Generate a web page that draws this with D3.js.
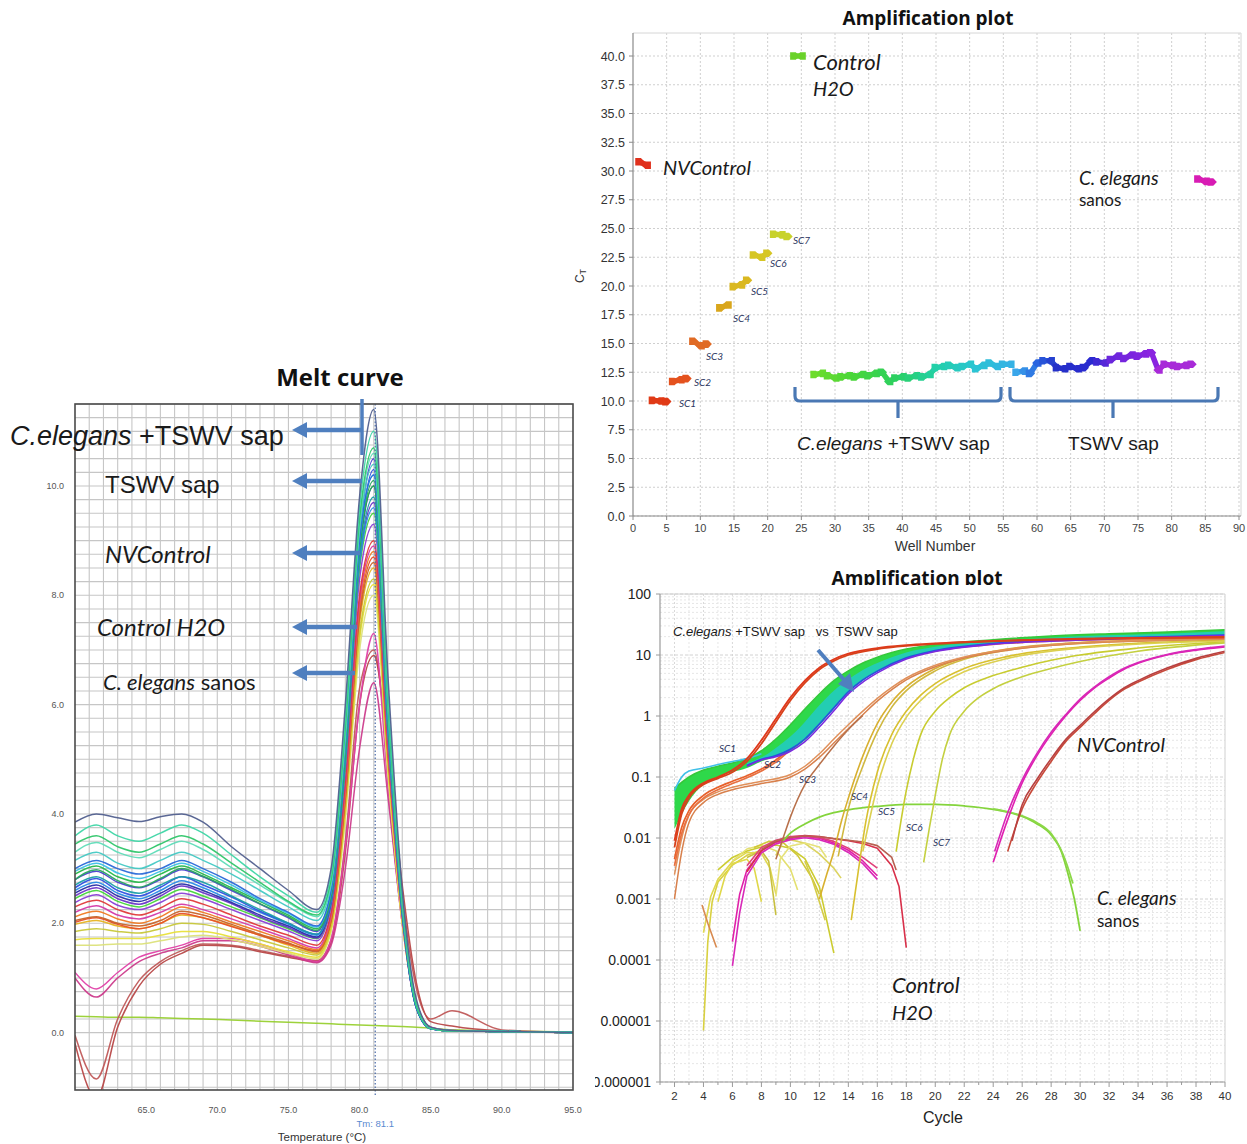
<!DOCTYPE html>
<html><head><meta charset="utf-8">
<script src="https://cdn.jsdelivr.net/npm/d3@7"></script>
<style>
html,body{margin:0;padding:0;background:#fff;}
svg{display:block;}
text{font-family:"Liberation Sans",Arial,sans-serif;}
</style></head><body>
<svg id="fig" width="1247" height="1144"></svg>
<script>
// ===================== data =====================

// Melt curve: derivative reporter (-dF/dT) sampled at these temperatures (°C)
const meltTemps = [60, 61.5, 63, 64.5, 66, 67.5, 69, 71, 73, 75, 77, 78, 79, 80, 81, 82, 83, 84, 85, 86.5, 90, 95];
const meltValues = [
  [0.30,0.29,0.28,0.28,0.27,0.26,0.25,0.23,0.21,0.19,0.17,0.16,0.15,0.14,0.13,0.12,0.11,0.10,0.08,0.05,0.03,0.01],
  [-0.05,-0.85,0.25,0.95,1.30,1.50,1.62,1.60,1.50,1.40,1.32,1.70,3.50,6.30,7.00,5.00,2.50,0.80,0.25,0.40,0.05,0.0],
  [-0.20,-1.20,0.10,0.85,1.25,1.45,1.60,1.58,1.48,1.38,1.30,1.65,3.30,6.00,6.90,5.20,2.70,0.90,0.20,0.12,0.03,0.0],
  [1.10,0.80,1.10,1.38,1.50,1.60,1.72,1.72,1.62,1.45,1.30,1.70,3.40,6.00,7.30,4.50,2.00,0.50,0.10,0.04,0.02,0.0],
  [1.00,0.65,1.00,1.30,1.45,1.55,1.68,1.68,1.58,1.42,1.28,1.60,3.00,5.20,6.40,4.30,2.00,0.55,0.10,0.04,0.02,0.0],
  [1.60,1.60,1.62,1.62,1.68,1.75,1.78,1.70,1.58,1.45,1.35,1.85,3.90,7.00,8.00,4.70,2.00,0.50,0.08,0.03,0.02,0.0],
  [1.70,1.72,1.72,1.72,1.78,1.85,1.85,1.75,1.62,1.48,1.38,1.90,4.00,7.20,8.20,4.80,2.00,0.50,0.08,0.03,0.02,0.0],
  [1.85,1.90,1.85,1.82,1.90,2.00,1.98,1.85,1.70,1.55,1.42,1.95,4.10,7.30,8.30,4.90,2.10,0.50,0.08,0.03,0.02,0.0],
  [1.98,2.05,1.95,1.90,2.00,2.15,2.10,1.95,1.78,1.60,1.45,2.00,4.20,7.50,8.50,5.00,2.10,0.50,0.08,0.03,0.02,0.0],
  [2.02,2.10,1.98,1.90,2.00,2.18,2.10,1.94,1.78,1.62,1.50,2.05,4.30,7.70,8.70,5.10,2.15,0.50,0.08,0.03,0.02,0.0],
  [2.05,2.12,2.00,1.95,2.05,2.22,2.15,1.98,1.80,1.64,1.48,2.05,4.30,7.60,8.60,5.10,2.20,0.55,0.09,0.03,0.02,0.0],
  [2.12,2.22,2.08,2.00,2.12,2.30,2.20,2.02,1.85,1.68,1.52,2.10,4.40,7.80,8.80,5.20,2.15,0.50,0.08,0.03,0.02,0.0],
  [2.20,2.32,2.15,2.08,2.20,2.35,2.25,2.08,1.90,1.72,1.55,2.15,4.50,7.90,8.90,5.20,2.10,0.45,0.07,0.03,0.02,0.0],
  [2.30,2.42,2.25,2.15,2.28,2.45,2.35,2.15,1.95,1.78,1.60,2.20,4.60,8.00,9.00,5.30,2.20,0.50,0.08,0.03,0.02,0.0],
  [2.38,2.52,2.33,2.25,2.38,2.55,2.45,2.25,2.05,1.86,1.68,2.30,4.80,8.30,9.30,5.40,2.15,0.45,0.07,0.03,0.02,0.0],
  [2.45,2.60,2.40,2.30,2.45,2.62,2.50,2.30,2.10,1.90,1.72,2.35,4.90,8.50,9.50,5.50,2.20,0.45,0.07,0.03,0.02,0.0],
  [2.50,2.65,2.45,2.35,2.50,2.68,2.56,2.36,2.12,1.92,1.73,2.38,5.00,8.60,9.70,5.60,2.20,0.45,0.07,0.03,0.02,0.0],
  [2.55,2.70,2.50,2.40,2.55,2.72,2.60,2.38,2.15,1.95,1.75,2.40,5.10,8.80,10.0,5.70,2.25,0.45,0.07,0.03,0.02,0.0],
  [2.60,2.75,2.55,2.45,2.60,2.78,2.65,2.42,2.20,1.98,1.78,2.40,5.00,8.60,9.60,5.50,2.20,0.45,0.07,0.03,0.02,0.0],
  [2.65,2.82,2.60,2.50,2.66,2.85,2.70,2.48,2.22,2.00,1.80,2.45,5.20,8.90,10.3,5.80,2.25,0.45,0.07,0.03,0.02,0.0],
  [2.70,2.85,2.65,2.55,2.70,2.85,2.75,2.50,2.25,2.00,1.80,2.45,5.00,8.70,9.80,5.60,2.20,0.45,0.07,0.03,0.02,0.0],
  [2.80,2.95,2.75,2.65,2.80,2.98,2.85,2.60,2.35,2.10,1.85,2.50,5.30,9.10,10.5,5.90,2.30,0.50,0.08,0.03,0.02,0.0],
  [2.80,2.98,2.78,2.66,2.82,3.00,2.86,2.62,2.36,2.12,1.87,2.50,5.20,8.90,10.1,5.80,2.30,0.50,0.08,0.03,0.02,0.0],
  [2.90,3.05,2.85,2.75,2.90,3.05,2.90,2.65,2.40,2.15,1.90,2.55,5.20,8.90,10.0,5.70,2.25,0.50,0.08,0.03,0.02,0.0],
  [2.95,3.10,2.92,2.82,2.95,3.10,2.95,2.70,2.42,2.18,1.93,2.58,5.30,9.00,10.2,5.80,2.30,0.50,0.08,0.03,0.02,0.0],
  [3.00,3.15,3.00,2.90,3.00,3.15,3.00,2.75,2.45,2.20,1.95,2.60,5.30,9.00,10.2,5.80,2.30,0.50,0.08,0.03,0.02,0.0],
  [3.15,3.30,3.10,3.00,3.15,3.30,3.15,2.90,2.60,2.30,2.05,2.70,5.40,9.20,10.4,5.90,2.35,0.50,0.08,0.03,0.02,0.0],
  [3.30,3.48,3.30,3.20,3.35,3.50,3.35,3.02,2.70,2.38,2.12,2.75,5.50,9.30,10.6,6.00,2.40,0.50,0.08,0.03,0.02,0.0],
  [3.45,3.60,3.40,3.30,3.45,3.60,3.45,3.10,2.75,2.40,2.15,2.80,5.60,9.40,10.7,6.00,2.40,0.50,0.08,0.03,0.02,0.0],
  [3.60,3.80,3.60,3.50,3.65,3.80,3.65,3.25,2.85,2.50,2.20,2.90,5.80,9.60,11.0,6.20,2.50,0.55,0.09,0.04,0.02,0.0],
  [3.85,4.00,3.93,3.86,3.95,4.00,3.85,3.40,3.00,2.60,2.25,3.00,6.00,9.80,11.4,6.50,2.60,0.60,0.10,0.04,0.02,0.0]
];
const meltXTicks = [65, 70, 75, 80, 85, 90, 95];
const meltYTicks = [0, 2, 4, 6, 8, 10];
const meltTm = 81.1;

// Ct by well number (top-right panel)
const ctNV    = [[1, 30.8], [2, 30.5]];
const ctSC1   = [[3, 10.05], [4, 10.0], [5, 9.95]];
const ctSC2   = [[6, 11.7], [7, 11.85], [8, 11.95]];
const ctSC3   = [[9, 15.2], [10, 14.8], [11, 14.95]];
const ctSC4   = [[13, 18.1], [14, 18.35]];
const ctSC5   = [[15, 19.95], [16, 20.1], [17, 20.5]];
const ctSC6   = [[18, 22.7], [19, 22.5], [20, 22.85]];
const ctSC7   = [[21, 24.5], [22, 24.45], [23, 24.3]];
const ctH2O   = [[24, 40.0], [25, 40.0]];
const ctSanos = [[84, 29.3], [85, 29.1], [86, 29.05]];
const ctCelTswv = [[27,12.3],[28,12.4],[29,12.2],[30,12.0],[31,12.1],[32,12.2],[33,12.1],[34,12.3],[35,12.2],[36,12.4],[37,12.5],[38,11.7],[39,12.0],[40,12.1],[41,12.0],[42,12.2],[43,12.1],[44,12.3],[45,12.9],[46,13.0],[47,13.1],[48,12.9],[49,13.0],[50,13.2],[51,12.8],[52,13.1],[53,13.3],[54,13.0],[55,13.2],[56,13.2]];
const ctTswv = [[57,12.5],[58,12.6],[59,12.4],[60,13.3],[61,13.5],[62,13.5],[63,12.9],[64,12.8],[65,13.0],[66,12.8],[67,12.9],[68,13.5],[69,13.4],[70,13.3],[71,13.6],[72,13.9],[73,13.7],[74,14.0],[75,13.9],[76,14.1],[77,14.2],[78,12.7],[79,13.2],[80,13.1],[81,13.0],[82,13.1],[83,13.2]];
const ctYTicks = [0, 2.5, 5, 7.5, 10, 12.5, 15, 17.5, 20, 22.5, 25, 27.5, 30, 32.5, 35, 37.5, 40];
const wellTicks = [0, 5, 10, 15, 20, 25, 30, 35, 40, 45, 50, 55, 60, 65, 70, 75, 80, 85, 90];

// Amplification curves (cycle, ΔRn) on a log axis
const bandCycles = [2,3,4,5,6,7,8,9,10,11,12,13,14,15,16,18,20,24,28,32,36,40];
const bandUpper  = [0.065,0.1,0.13,0.15,0.17,0.2,0.27,0.42,0.72,1.3,2.3,3.8,5.5,7.4,9.2,12.5,14.8,17.8,20.5,22.3,23.8,26];
const bandLower  = [0.014,0.04,0.075,0.1,0.12,0.14,0.18,0.215,0.27,0.4,0.7,1.3,2.4,3.8,5.3,8.8,11.6,15.2,17.2,18.6,19.8,21];
const tswvCycles = [7,8,9,10,11,12,13,14,15,16,18,20,24,28,32,36,40];
const tswvUpper  = [0.17,0.21,0.3,0.46,0.8,1.5,2.6,4.0,5.7,7.4,11,13.6,16.8,19.2,21,22.3,24.5];
const tswvLower  = [0.15,0.19,0.22,0.28,0.41,0.72,1.32,2.42,3.8,5.3,8.8,11.6,15.2,17.4,18.8,20,21.2];
const ampTswvLines = [
  [[2,0.06],[2.5,0.1],[3,0.125],[4,0.14],[5,0.16],[6,0.18],[7,0.2],[8,0.24]],
  [[7,0.155],[8,0.195],[9,0.225],[10,0.285],[11,0.42],[12,0.74],[13,1.36],[14,2.5],[15,3.9],[16,5.45],[18,9],[20,11.8],[24,15.4],[30,18],[40,21.2]],
  [[7,0.15],[8,0.19],[9,0.215],[10,0.265],[11,0.38],[12,0.66],[13,1.22],[14,2.3],[15,3.6],[16,5.1],[18,8.6],[20,11.4],[24,15],[30,17.6],[40,20.8]]
];
const ampSC1 = [
  [[2,0.009],[2.5,0.03],[3,0.05],[4,0.08],[5,0.1],[6,0.13],[7,0.2],[8,0.4],[9,0.9],[10,2.0],[11,3.8],[12,6.2],[13,8.5],[14,10.5],[16,13],[18,14.5],[20,15.5],[24,17],[30,18.5],[40,19.8]],
  [[2,0.007],[2.5,0.025],[3,0.045],[4,0.075],[5,0.095],[6,0.12],[7,0.18],[8,0.35],[9,0.8],[10,1.8],[11,3.5],[12,5.8],[13,8],[14,10],[16,12.5],[20,15.2],[30,18.2],[40,19.5]]
];
const ampSC2 = [
  [[2,0.0045],[2.5,0.015],[3,0.028],[4,0.05],[5,0.068],[6,0.085],[7,0.105],[8,0.135],[9,0.19],[10,0.3],[11,0.52],[12,0.95],[13,1.75],[14,2.9],[15,4.5],[16,6.2],[18,9.4],[20,12],[24,15.2],[30,17.8],[40,19.2]],
  [[2,0.0035],[2.5,0.012],[3,0.024],[4,0.045],[5,0.062],[6,0.078],[7,0.097],[8,0.125],[9,0.175],[10,0.28],[11,0.48],[12,0.88],[13,1.6],[14,2.7],[15,4.2],[16,5.9],[18,9],[20,11.6],[24,14.9],[30,17.5],[40,19]]
];
const ampSC3 = [
  [[2,0.001],[2.5,0.006],[3,0.018],[4,0.038],[5,0.052],[6,0.062],[8,0.078],[10,0.1],[11,0.135],[12,0.21],[13,0.36],[14,0.62],[15,1.05],[16,1.75],[17,2.7],[18,3.9],[20,6.4],[22,8.9],[25,12],[30,15.6],[40,18.2]],
  [[2,0.0025],[2.5,0.01],[3,0.024],[4,0.043],[5,0.057],[6,0.068],[8,0.085],[10,0.11],[11,0.15],[12,0.24],[13,0.42],[14,0.72],[15,1.2],[16,1.95],[17,2.95],[18,4.2],[20,6.8],[22,9.3],[25,12.4],[30,15.9],[40,18.5]],
  [[9,0.0045],[9.5,0.01],[10,0.022],[11,0.075],[12,0.16],[13,0.32],[14,0.6],[15,1.02]]
];
const ampSC4 = [
  [[12,0.001],[12.5,0.0025],[13,0.006],[13.5,0.018],[14,0.045],[15,0.22],[16,0.75],[17,1.7],[18,3],[20,6],[22,9],[25,12.5],[30,16],[40,18.6]],
  [[13.3,0.005],[14,0.03],[15,0.15],[16,0.55],[17,1.4],[18,2.6],[20,5.5],[22,8.5],[25,12],[30,15.5],[40,18.1]]
];
const ampSC5 = [
  [[14.2,0.00045],[14.7,0.003],[15.2,0.018],[16,0.12],[17,0.5],[18,1.2],[19,2.2],[20,3.4],[22,6],[25,9.5],[30,13.5],[40,17.5]],
  [[15,0.006],[16,0.07],[17,0.35],[18,0.95],[19,1.8],[20,2.9],[22,5.3],[25,8.8],[30,13],[40,17]]
];
const ampSC6 = [
  [[17.3,0.006],[18,0.06],[18.5,0.2],[19,0.5],[20,1.2],[21,2.0],[22,2.9],[24,4.6],[26,6.3],[28,8.2],[30,10],[34,13],[40,16.5]]
];
const ampSC7 = [
  [[19.2,0.004],[19.6,0.015],[20,0.05],[20.5,0.2],[21,0.5],[22,1.2],[23,2.0],[24,2.8],[26,4.4],[28,6],[30,7.8],[34,11.5],[40,15.8]]
];
const ampNV = [
  [[24,0.004],[25,0.02],[26,0.08],[27,0.22],[28,0.5],[29,1.0],[30,1.8],[31,2.9],[32,4.2],[33,5.8],[34,7.3],[36,10],[38,12],[40,13.6]],
  [[24.1,0.006],[25,0.026],[26,0.09],[27,0.24],[28,0.54],[29,1.05],[30,1.9],[31,3.0],[32,4.4],[33,6.0],[34,7.5],[36,10.2],[38,12.3],[40,14]],
  [[25,0.006],[26,0.03],[27,0.08],[28,0.18],[29,0.38],[30,0.65],[31,1.1],[32,1.8],[33,2.7],[34,3.6],[36,5.8],[38,8.4],[40,11]],
  [[25.3,0.009],[26,0.035],[27,0.09],[28,0.2],[29,0.41],[30,0.7],[31,1.18],[32,1.9],[33,2.85],[34,3.8],[36,6.1],[38,8.8],[40,11.5]]
];
const ampSanos = [
  [[9.5,0.009],[10,0.012],[11,0.017],[12,0.022],[13,0.026],[14,0.029],[16,0.033],[18,0.0355],[20,0.0355],[22,0.0335],[24,0.0295],[26,0.0225],[27,0.0172],[28,0.0112],[28.7,0.006],[29.2,0.0024],[29.6,0.001],[30,0.0003]],
  [[24,0.03],[26,0.023],[27,0.018],[28,0.0118],[28.6,0.007],[29,0.0042],[29.5,0.0018]]
];
const ampH2O = [
  [[6,0.0002],[6.5,0.0012],[7,0.003],[8,0.0062],[9,0.0085],[10,0.0098],[11,0.0106],[12,0.0099],[13,0.0083],[14,0.0063],[15,0.0042],[16,0.0024]],
  [[6,0.00008],[6.5,0.0006],[7,0.0024],[8,0.0057],[9,0.008],[10,0.0094],[11,0.0101],[12,0.0094],[13,0.0079],[14,0.0058],[15,0.0038],[16,0.0021]],
  [[7,0.0028],[8,0.0062],[9,0.0088],[10,0.0104],[11,0.011],[12,0.0106],[13,0.0097],[14,0.009],[15,0.0081],[16,0.0068],[17,0.0035],[17.5,0.0016],[18,0.00016]],
  [[7,0.0035],[8,0.007],[9,0.0092],[10,0.0106],[11,0.0108],[12,0.0102],[13,0.0088],[14,0.0068],[15,0.0048],[16,0.0032]],
  [[8,0.0065],[9,0.009],[10,0.0102],[11,0.0108],[12,0.0105],[13,0.0098],[14,0.0092],[15,0.0086],[16,0.0075],[17,0.0048],[17.3,0.003]]
];
const ampNoise = [
  [[4,0.000007],[4.3,0.0002],[4.6,0.0009],[5,0.0019],[6,0.0036],[7,0.0052],[8,0.0063]],
  [[4,0.00028],[4.5,0.0011],[5,0.0021],[6,0.0041],[7,0.0058],[8,0.0056],[8.6,0.0032],[9,0.0012]],
  [[5,0.003],[6,0.0048],[7,0.0061],[8,0.0071],[9,0.0077],[10,0.0068],[11,0.0046],[12,0.0016],[13,0.00013]],
  [[6,0.0042],[7,0.0066],[8,0.0076],[9,0.0062],[10,0.0031],[10.5,0.0014]],
  [[7.5,0.007],[8.5,0.0088],[9.5,0.0084],[10.5,0.0052],[11.5,0.0022],[12,0.0012]],
  [[9,0.0052],[9.5,0.0088],[10,0.0094],[11,0.0082],[12,0.0055],[13,0.0032],[13.5,0.0022]],
  [[5,0.0009],[5.5,0.0024],[6,0.0038],[7,0.0045],[7.5,0.0032],[8,0.0009]],
  [[7,0.0048],[8,0.0062],[8.5,0.0042],[9,0.00055]],
  [[9,0.0011],[9.3,0.0045],[10,0.0074],[11,0.0083],[12,0.0071],[12.5,0.0048]],
  [[11,0.0042],[11.5,0.0021],[12,0.0009],[12.4,0.00045]],
  [[3.9,0.0008],[4.3,0.0004],[4.9,0.00016]]
];
const cycleTicks = [2,4,6,8,10,12,14,16,18,20,22,24,26,28,30,32,34,36,38,40];
const ampYTicks = [1e-6, 1e-5, 1e-4, 1e-3, 1e-2, 1e-1, 1, 10, 100];
const ampYLabels = ["0.000001","0.00001","0.0001","0.001","0.01","0.1","1","10","100"];

// ===================== drawing =====================
const svg = d3.select("#fig");
svg.append("rect").attr("width", 1247).attr("height", 1144).attr("fill", "#fff");
const defs = svg.append("defs");
const ARROW = "#4f7fbf";

function rich(g, x, y, parts, size, family, anchor) {
  const t = g.append("text").attr("x", x).attr("y", y)
    .style("font-size", size + "px").style("font-family", family)
    .style("white-space", "pre").attr("fill", "#1a1a1a")
    .attr("text-anchor", anchor || "start");
  parts.forEach(([s, it]) => t.append("tspan").text(s).style("font-style", it ? "italic" : "normal"));
  return t;
}
const LATO = "Lato, 'Open Sans', sans-serif";
const ARIAL = "'Liberation Sans', Arial, sans-serif";
const TITLE = "'Open Sans', Lato, sans-serif";

// ---------- Melt curve ----------
const mx = d3.scaleLinear().domain([60, 95]).range([75, 573]);
const my = d3.scaleLinear().domain([-1.05, 11.5]).range([1090, 404]);
const melt = svg.append("g");
defs.append("clipPath").attr("id", "meltClip").append("rect")
  .attr("x", mx(60)).attr("y", my(11.5)).attr("width", mx(95) - mx(60)).attr("height", my(-1.05) - my(11.5));

const mGrid = melt.append("g");
d3.range(61, 95).forEach(t => mGrid.append("line")
  .attr("x1", mx(t)).attr("x2", mx(t)).attr("y1", my(11.5)).attr("y2", my(-1.05))
  .attr("stroke", "#c6c6c6").attr("stroke-width", 1.1));
d3.range(-1, 11.5 + 1e-9, 0.25).forEach(v => mGrid.append("line")
  .attr("x1", mx(60)).attr("x2", mx(95)).attr("y1", my(v)).attr("y2", my(v))
  .attr("stroke", "#c6c6c6").attr("stroke-width", 1.1));

const meltColors = ["#98d030","#c05a5a","#b84848","#e040a8","#cc3c8c","#dce27a","#e8e03a","#c8c83a","#e6b422","#e8502a",
  "#c8642a","#f07a22","#d43aa8","#e03a3a","#8a3fd6","#44d63a","#6a34c8","#2a2fa8","#2b8ce6","#3050e0",
  "#1a9ea8","#4b3fd0","#28a860","#27b84a","#3cc0e6","#2a6ad8","#45c9c4","#60dcb8","#2fc66a","#3fd6a6","#52608f"];
const meltLine = d3.line().x(d => mx(d[0])).y(d => my(d[1])).curve(d3.curveMonotoneX);
const mCurves = melt.append("g").attr("clip-path", "url(#meltClip)");
meltValues.forEach((vals, i) => {
  mCurves.append("path").attr("d", meltLine(vals.map((v, k) => [meltTemps[k], v])))
    .attr("fill", "none").attr("stroke", meltColors[i]).attr("stroke-width", 1.5).attr("opacity", 0.95);
});
// Tm marker
melt.append("line").attr("x1", mx(meltTm)).attr("x2", mx(meltTm)).attr("y1", my(11.5)).attr("y2", 1097)
  .attr("stroke", "#4a6aa8").attr("stroke-width", 1.2).attr("stroke-dasharray", "1.5,2");
melt.append("rect").attr("x", mx(60)).attr("y", my(11.5)).attr("width", mx(95) - mx(60)).attr("height", my(-1.05) - my(11.5))
  .attr("fill", "none").attr("stroke", "#4a4a4a").attr("stroke-width", 1.6);
meltYTicks.forEach(v => melt.append("text").attr("x", 64).attr("y", my(v) + 3).attr("text-anchor", "end")
  .style("font-size", "9px").attr("fill", "#555").text(v.toFixed(1)));
meltXTicks.forEach(v => melt.append("text").attr("x", mx(v)).attr("y", 1113).attr("text-anchor", "middle")
  .style("font-size", "9px").attr("fill", "#555").text(v.toFixed(1)));
melt.append("text").attr("x", mx(meltTm)).attr("y", 1127).attr("text-anchor", "middle")
  .style("font-size", "9.5px").attr("fill", "#5a8ad0").text("Tm: " + meltTm.toFixed(1));
melt.append("text").attr("x", 322).attr("y", 1141).attr("text-anchor", "middle")
  .style("font-size", "11.5px").attr("fill", "#333").text("Temperature (°C)");
melt.append("text").attr("x", 340).attr("y", 386).attr("text-anchor", "middle")
  .style("font-family", TITLE).style("font-weight", "700").style("font-size", "24px").attr("fill", "#111").text("Melt curve");

// group arrows
const mAnn = svg.append("g");
mAnn.append("line").attr("x1", 362).attr("x2", 362).attr("y1", 399).attr("y2", 455)
  .attr("stroke", ARROW).attr("stroke-width", 3.5);
function leftArrow(g, x1, x2, y) {
  g.append("line").attr("x1", x1).attr("x2", x2 + 12).attr("y1", y).attr("y2", y)
    .attr("stroke", ARROW).attr("stroke-width", 4.5);
  g.append("path").attr("d", `M${x2},${y} L${x2 + 15},${y - 8} L${x2 + 15},${y + 8} Z`).attr("fill", ARROW);
}
[[362, 430], [362, 481], [360, 553], [357, 627], [355, 673]].forEach(([x1, y]) => leftArrow(mAnn, x1, 292, y));
rich(mAnn, 10, 445, [["C.elegans", true], [" +TSWV sap", false]], 27, ARIAL);
rich(mAnn, 105, 493, [["TSWV sap", false]], 24, ARIAL);
rich(mAnn, 105, 563, [["NVControl", true]], 24, LATO);
rich(mAnn, 97, 636, [["Control H2O", true]], 24, LATO);
rich(mAnn, 103, 690, [["C. elegans", true], [" sanos", false]], 22, LATO);

// ---------- Ct vs well number ----------
const sx = d3.scaleLinear().domain([0, 90]).range([633, 1239]);
const sy = d3.scaleLinear().domain([0, 40]).range([516, 56]);
const sc = svg.append("g");
const sTop = 33, sRight = 1241;
ctYTicks.forEach(v => sc.append("line").attr("x1", sx(0)).attr("x2", sRight).attr("y1", sy(v)).attr("y2", sy(v))
  .attr("stroke", "#cfcfcf").attr("stroke-dasharray", "2,2"));
wellTicks.forEach(v => { if (v > 0) sc.append("line").attr("x1", sx(v)).attr("x2", sx(v)).attr("y1", sTop).attr("y2", sy(0))
  .attr("stroke", "#cfcfcf").attr("stroke-dasharray", "2,2"); });
sc.append("path").attr("d", `M${sx(0)},${sTop} H${sRight} V${sy(0)}`).attr("fill", "none").attr("stroke", "#d6d6d6");
sc.append("line").attr("x1", sx(0)).attr("x2", sx(0)).attr("y1", sTop).attr("y2", sy(0)).attr("stroke", "#8a8a8a").attr("stroke-width", 1.2);
sc.append("line").attr("x1", sx(0)).attr("x2", sRight).attr("y1", sy(0)).attr("y2", sy(0)).attr("stroke", "#8a8a8a").attr("stroke-width", 1.2);
ctYTicks.forEach(v => {
  sc.append("line").attr("x1", sx(0) - 4).attr("x2", sx(0)).attr("y1", sy(v)).attr("y2", sy(v)).attr("stroke", "#8a8a8a");
  sc.append("text").attr("x", 625).attr("y", sy(v) + 4.5).attr("text-anchor", "end")
    .style("font-size", "12.5px").attr("fill", "#333").text(v.toFixed(1));
});
wellTicks.forEach(v => {
  sc.append("line").attr("x1", sx(v)).attr("x2", sx(v)).attr("y1", sy(0)).attr("y2", sy(0) + 4).attr("stroke", "#8a8a8a");
  sc.append("text").attr("x", sx(v)).attr("y", 532).attr("text-anchor", "middle")
    .style("font-size", "11px").attr("fill", "#444").text(v);
});
sc.append("text").attr("x", 935).attr("y", 551).attr("text-anchor", "middle").style("font-size", "14px").attr("fill", "#333").text("Well Number");
const ctLab = sc.append("text").attr("transform", "translate(584,276) rotate(-90)").attr("text-anchor", "middle")
  .style("font-size", "12px").attr("fill", "#333");
ctLab.append("tspan").text("C");
ctLab.append("tspan").text("T").style("font-size", "9px").attr("dy", 2);
sc.append("text").attr("x", 928).attr("y", 25).attr("text-anchor", "middle")
  .style("font-family", TITLE).style("font-weight", "700").style("font-size", "19px").attr("fill", "#111").text("Amplification plot");

const markerR = "M-4.5,-3.8 L1.2,-3.8 L4.8,0 L1.2,3.8 L-4.5,3.8 Z";
const markerL = "M4.5,-3.8 L-1.2,-3.8 L-4.8,0 L-1.2,3.8 L4.5,3.8 Z";
function cluster(data, colorOf) {
  const g = sc.append("g");
  for (let i = 0; i < data.length - 1; i++) {
    g.append("line").attr("x1", sx(data[i][0])).attr("y1", sy(data[i][1]))
      .attr("x2", sx(data[i + 1][0])).attr("y2", sy(data[i + 1][1]))
      .attr("stroke", colorOf(i)).attr("stroke-width", 5.5).attr("stroke-linecap", "round");
  }
  data.forEach((d, i) => g.append("path").attr("d", i % 2 ? markerL : markerR)
    .attr("transform", `translate(${sx(d[0])},${sy(d[1])})`).attr("fill", colorOf(i)));
}
const solid = c => () => c;
cluster(ctNV, solid("#e0301c"));
cluster(ctSC1, solid("#e03a16"));
cluster(ctSC2, solid("#e4521e"));
cluster(ctSC3, solid("#e06a24"));
cluster(ctSC4, solid("#d9a61c"));
cluster(ctSC5, solid("#dab820"));
cluster(ctSC6, solid("#d6c624"));
cluster(ctSC7, solid("#c8d22c"));
cluster(ctH2O, solid("#6ad22a"));
cluster(ctSanos, solid("#d81cb4"));
const celRamp = d3.scaleLinear().domain([0, 6, 12, 18, 24, 29])
  .range(["#6ddc2c", "#48d63a", "#2cd060", "#22d0a8", "#2ac4d4", "#34b2e4"]).interpolate(d3.interpolateRgb);
cluster(ctCelTswv, i => celRamp(i));
const tswvRamp = d3.scaleLinear().domain([0, 3, 6, 11, 14, 20, 21, 26])
  .range(["#3aa6ea", "#2a64e0", "#2430c8", "#2a2ad0", "#6a26dc", "#8a24e0", "#a82ad8", "#a82ad8"]).interpolate(d3.interpolateRgb);
cluster(ctTswv, i => tswvRamp(i));

// SC labels
const scLab = [["SC1", 679, 407], ["SC2", 694, 386], ["SC3", 706, 360], ["SC4", 733, 322], ["SC5", 751, 295], ["SC6", 770, 267], ["SC7", 793, 244]];
scLab.forEach(([t, x, y]) => sc.append("text").attr("x", x).attr("y", y).style("font-family", LATO)
  .style("font-style", "italic").style("font-size", "10px").attr("fill", "#2a3560").text(t));
// braces
function brace(x1, x2, xm) {
  sc.append("path").attr("d", `M${x1},387 V396 Q${x1},401 ${x1 + 5},401 H${x2 - 5} Q${x2},401 ${x2},396 V387 M${xm},401 V418`)
    .attr("fill", "none").attr("stroke", "#4a78b4").attr("stroke-width", 3.2).attr("stroke-linejoin", "round");
}
brace(795, 1001, 898);
brace(1010, 1218, 1113);
rich(sc, 797, 450, [["C.elegans", true], [" +TSWV sap", false]], 19, ARIAL);
rich(sc, 1068, 450, [["TSWV sap", false]], 19, ARIAL);
rich(sc, 813, 70, [["Control", true]], 22, LATO);
rich(sc, 813, 96, [["H2O", true]], 20, LATO);
rich(sc, 663, 175, [["NVControl", true]], 20, LATO);
rich(sc, 1079, 185, [["C. elegans", true]], 19, LATO);
rich(sc, 1079, 206, [["sanos", false]], 17, LATO);

// ---------- Amplification plot (log) ----------
const ax = d3.scaleLinear().domain([1, 40]).range([660, 1225]);
const ay = d3.scaleLog().domain([1e-6, 100]).range([1082, 594]);
defs.append("clipPath").attr("id", "ampPanel").append("rect").attr("x", 595).attr("y", 586).attr("width", 652).attr("height", 558);
defs.append("clipPath").attr("id", "ampPlot").append("rect").attr("x", ax(1)).attr("y", ay(100)).attr("width", ax(40) - ax(1)).attr("height", ay(1e-6) - ay(100));
defs.append("clipPath").attr("id", "ampTitle").append("rect").attr("x", 700).attr("y", 555).attr("width", 400).attr("height", 30);
svg.append("text").attr("clip-path", "url(#ampTitle)").attr("x", 917).attr("y", 585).attr("text-anchor", "middle")
  .style("font-family", TITLE).style("font-weight", "700").style("font-size", "19px").attr("fill", "#111").text("Amplification plot");

const amp = svg.append("g").attr("clip-path", "url(#ampPanel)");
const aGrid = amp.append("g");
d3.range(2, 40).forEach(c => aGrid.append("line").attr("x1", ax(c)).attr("x2", ax(c)).attr("y1", ay(100)).attr("y2", ay(1e-6))
  .attr("stroke", c % 2 ? "#e6e6e6" : "#d9d9d9").attr("stroke-dasharray", "2,2"));
ampYTicks.slice(0, -1).forEach(base => {
  for (let k = 2; k <= 9; k++) aGrid.append("line").attr("x1", ax(1)).attr("x2", ax(40)).attr("y1", ay(base * k)).attr("y2", ay(base * k))
    .attr("stroke", "#e6e6e6").attr("stroke-dasharray", "2,2");
});
ampYTicks.forEach(v => aGrid.append("line").attr("x1", ax(1)).attr("x2", ax(40)).attr("y1", ay(v)).attr("y2", ay(v))
  .attr("stroke", "#d2d2d2").attr("stroke-dasharray", "3,2"));

const plot = amp.append("g").attr("clip-path", "url(#ampPlot)");
const aLine = d3.line().x(d => ax(d[0])).y(d => ay(d[1])).curve(d3.curveMonotoneX);
const aLinear = d3.line().x(d => ax(d[0])).y(d => ay(d[1]));
function curves(set, colors, width, gen) {
  set.forEach((c, i) => plot.append("path").attr("d", (gen || aLine)(c)).attr("fill", "none")
    .attr("stroke", colors[i % colors.length]).attr("stroke-width", width).attr("stroke-linejoin", "round"));
}
curves(ampNoise, ["#d8d040", "#e0d850", "#cccc30", "#e4e070", "#d0c838", "#dcd460", "#e0d84a", "#c8c040", "#e6e27a", "#d4cc48", "#d88a50"], 1.6, aLinear);
curves(ampH2O, ["#e020a8", "#d828b8", "#d8304a", "#e0407a", "#b86050"], 1.6, aLinear);
curves(ampSanos, ["#84d43c", "#8cd848"], 1.8);
curves(ampSC7, ["#c4d040"], 1.6);
curves(ampSC6, ["#c8cc30"], 1.6);
curves(ampSC5, ["#d8c030", "#dcd050"], 1.6);
curves(ampSC4, ["#d8b030", "#d0b840"], 1.6);
curves(ampNV, ["#e020b0", "#d828b8", "#c84a3a", "#b84040"], 1.6);
curves(ampSC3, ["#d8804c", "#e0905a", "#b8704a"], 1.5);
curves(ampSC2, ["#e8602a", "#e87040"], 1.7);
const bandArea = d3.area().x(d => ax(d[0])).y0(d => ay(d[2])).y1(d => ay(d[1])).curve(d3.curveMonotoneX);
plot.append("path").attr("d", bandArea(bandCycles.map((c, i) => [c, bandUpper[i], bandLower[i]]))).attr("fill", "#2ed84a");
plot.append("path").attr("d", bandArea(tswvCycles.map((c, i) => [c, tswvUpper[i], tswvLower[i]]))).attr("fill", "#22ccbf").attr("opacity", 0.9);
plot.append("path").attr("d", aLine(bandCycles.map((c, i) => [c, bandUpper[i]]))).attr("fill", "none").attr("stroke", "#34c83a").attr("stroke-width", 1.5);
curves(ampTswvLines, ["#40c0e8", "#2850e0", "#7a2ae0"], 1.6);
curves(ampSC1, ["#e0381c", "#d8401a"], 1.8);

// axes frame
amp.append("path").attr("d", `M${ax(1)},${ay(100)} H${ax(40)} V${ay(1e-6)}`).attr("fill", "none").attr("stroke", "#d0d0d0");
amp.append("line").attr("x1", ax(1)).attr("x2", ax(1)).attr("y1", ay(100)).attr("y2", ay(1e-6)).attr("stroke", "#9a9a9a").attr("stroke-width", 1.2);
amp.append("line").attr("x1", ax(1)).attr("x2", ax(40)).attr("y1", ay(1e-6)).attr("y2", ay(1e-6)).attr("stroke", "#9a9a9a").attr("stroke-width", 1.2);
ampYTicks.forEach((v, i) => {
  amp.append("line").attr("x1", ax(1) - 4).attr("x2", ax(1)).attr("y1", ay(v)).attr("y2", ay(v)).attr("stroke", "#9a9a9a");
  amp.append("text").attr("x", 651).attr("y", ay(v) + 5).attr("text-anchor", "end")
    .style("font-size", "14px").attr("fill", "#222").text(ampYLabels[i]);
});
d3.range(1, 41).forEach(c => amp.append("line").attr("x1", ax(c)).attr("x2", ax(c)).attr("y1", ay(1e-6)).attr("y2", ay(1e-6) + (c % 2 ? 3 : 5)).attr("stroke", "#9a9a9a"));
cycleTicks.forEach(c => amp.append("text").attr("x", ax(c)).attr("y", 1100).attr("text-anchor", "middle")
  .style("font-size", "11.5px").attr("fill", "#333").text(c));
amp.append("text").attr("x", 943).attr("y", 1123).attr("text-anchor", "middle").style("font-size", "16px").attr("fill", "#222").text("Cycle");

// annotations
rich(amp, 673, 636, [["C.elegans", true], [" +TSWV sap   vs  TSWV sap", false]], 13, ARIAL);
amp.append("line").attr("x1", 818).attr("y1", 650).attr("x2", 845).attr("y2", 681).attr("stroke", ARROW).attr("stroke-width", 4);
amp.append("path").attr("d", "M854,692 L838,684 L850,673 Z").attr("fill", ARROW);
const ampSC = [["SC1", 719, 752], ["SC2", 764, 768], ["SC3", 799, 783], ["SC4", 851, 800], ["SC5", 878, 815], ["SC6", 906, 831], ["SC7", 933, 846]];
ampSC.forEach(([t, x, y]) => amp.append("text").attr("x", x).attr("y", y).style("font-family", LATO)
  .style("font-style", "italic").style("font-size", "10px").attr("fill", "#2a3560").text(t));
rich(amp, 1077, 752, [["NVControl", true]], 20, LATO);
rich(amp, 1097, 905, [["C. elegans", true]], 19, LATO);
rich(amp, 1097, 927, [["sanos", false]], 17, LATO);
rich(amp, 892, 993, [["Control", true]], 22, LATO);
rich(amp, 892, 1020, [["H2O", true]], 20, LATO);
</script>
</body></html>
